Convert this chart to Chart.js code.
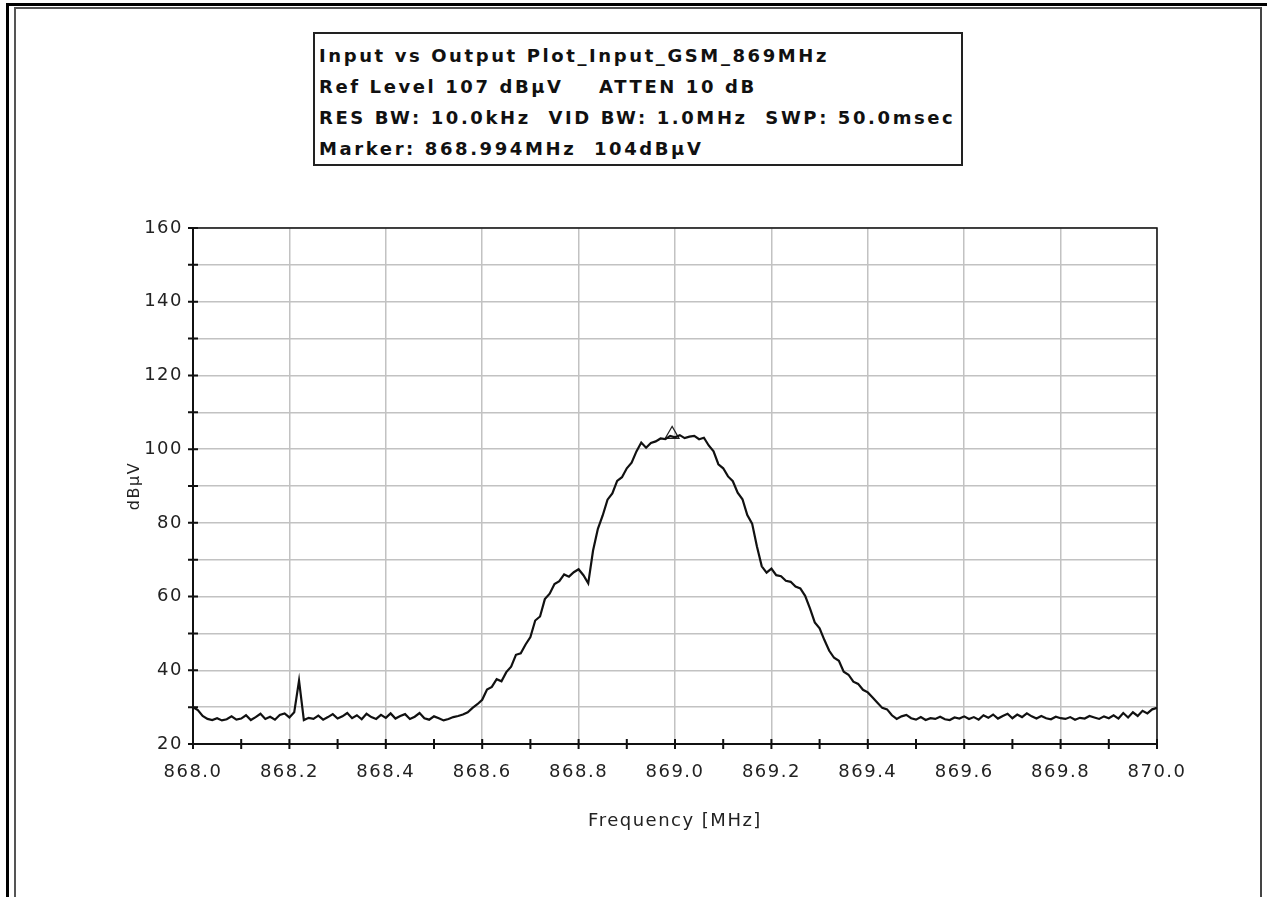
<!DOCTYPE html>
<html>
<head>
<meta charset="utf-8">
<title>Input vs Output Plot</title>
<script src="https://cdn.jsdelivr.net/npm/chart.js@4.4.1/dist/chart.umd.min.js"></script>
<style>
  html, body { margin: 0; padding: 0; background: #fff; }
  #wrap { position: relative; width: 1267px; height: 897px; overflow: hidden; }
  #outer { position: absolute; left: 6px; top: 3px; width: 1262px; height: 900px;
           border-left: 3px solid #000; border-top: 3px solid #000; }
  #inner { position: absolute; left: 14px; top: 7px; width: 1244px; height: 900px;
           border-left: 2px solid #555; border-top: 2px solid #555; border-right: 2px solid #444; }
  #info { position: absolute; left: 313px; top: 32px; width: 646px; height: 130px;
          border: 2px solid #222; background: #fff;
          font: bold 18px "DejaVu Sans", sans-serif; color: #111; }
  #info div { position: absolute; left: 4px; white-space: pre; letter-spacing: 2.6px; }
  canvas { position: absolute; left: 0; top: 0; }
</style>
</head>
<body>
<div id="wrap">
  <div id="outer"></div>
  <div id="inner"></div>
  <canvas id="plot" width="1267" height="897"></canvas>
  <div id="info">
    <div style="top:11px">Input vs Output Plot_Input_GSM_869MHz</div>
    <div style="top:42px">Ref Level 107 dBµV    ATTEN 10 dB</div>
    <div style="top:73px">RES BW: 10.0kHz  VID BW: 1.0MHz  SWP: 50.0msec</div>
    <div style="top:104px">Marker: 868.994MHz  104dBµV</div>
  </div>
</div>
<script>
// sweep settings of the analyzer trace
var sweepStart = 868.0;
var sweepStep = 0.01;

// trace level in dBuV, one value per sweep step (868.00 ... 870.00)
var level = [
    30.0, 29.2, 27.6, 26.8, 26.5, 27.0, 26.4, 26.7, 27.5, 26.6,
    26.9, 27.8, 26.5, 27.3, 28.2, 26.8, 27.4, 26.6, 27.9, 28.3,
    27.2, 28.6, 37.2, 26.5, 27.1, 26.8, 27.7, 26.6, 27.3, 28.1,
    26.9, 27.5, 28.4, 27.0, 27.8, 26.7, 28.2, 27.3, 26.8, 27.9,
    27.1, 28.3, 26.9, 27.6, 28.1, 26.8, 27.4, 28.4, 27.0, 26.6,
    27.5, 27.0, 26.4, 26.8, 27.3, 27.6, 28.0, 28.6, 29.8, 30.8,
    32.0, 34.8, 35.5, 37.6, 37.0, 39.5, 41.0, 44.2, 44.6, 47.0,
    49.0, 53.5, 54.6, 59.3, 60.8, 63.4, 64.2, 66.0, 65.4, 66.6,
    67.4, 65.8, 63.6, 72.5, 78.4, 82.0, 86.3, 88.0, 91.4, 92.4,
    94.8, 96.3, 99.4, 101.8, 100.4, 101.7, 102.1, 102.9, 102.7, 103.6,
    103.2, 103.8, 103.0, 103.4, 103.6, 102.7, 103.1, 101.0, 99.4, 95.9,
    94.8, 92.6, 91.3, 88.2, 86.4, 82.1, 79.8, 73.6, 68.2, 66.5,
    67.6, 65.8, 65.5, 64.3, 64.0, 62.7, 62.2, 60.2, 56.8, 53.0,
    51.4, 48.2, 45.3, 43.4, 42.6, 39.6, 38.8, 36.9, 36.3, 34.7,
    34.0, 32.6, 31.2, 29.8, 29.4, 27.8, 26.8, 27.5, 27.9, 27.0,
    26.6, 27.3, 26.5, 27.0, 26.8, 27.4, 26.7, 26.5, 27.2, 26.9,
    27.5, 26.8, 27.3, 26.6, 27.8, 27.1, 28.0, 26.9, 27.6, 28.2,
    27.0, 28.0, 27.3, 28.3, 27.5, 26.9, 27.6, 27.0, 26.7, 27.4,
    27.0, 26.8, 27.3, 26.6, 27.1, 26.9, 27.6, 27.2, 26.8, 27.5,
    27.0, 27.8, 26.9, 28.4, 27.2, 28.6, 27.6, 29.0, 28.3, 29.4,
    29.8
];

// marker readout
var markerFreq = [868.994];
var markerLevel = [104];

// labelled ticks
var xTickLabels = ['868.0', '868.2', '868.4', '868.6', '868.8', '869.0', '869.2', '869.4', '869.6', '869.8', '870.0'];
var yTickLabels = [20, 40, 60, 80, 100, 120, 140, 160];

var trace = level.map(function (v, i) {
    return {x: sweepStart + i * sweepStep, y: v};
});
var marker = markerFreq.map(function (f, i) {
    return {x: f, y: markerLevel[i]};
});

function isMajorX(v) {
    return xTickLabels.indexOf(v.toFixed(1)) !== -1;
}

var font = {family: 'DejaVu Sans', size: 18};

// box around the plot area plus the small cross ticks on both axes
var axisMarks = {
    id: 'axisMarks',
    beforeDraw: function (chart) {
        chart.ctx.letterSpacing = '1.5px';
    },
    afterDraw: function (chart) {
        var c = chart.ctx, a = chart.chartArea;
        var xs = chart.scales.x, ys = chart.scales.y;
        c.save();
        c.strokeStyle = '#111';
        c.lineWidth = 1.5;
        c.beginPath();
        c.moveTo(a.left, a.top);
        c.lineTo(a.right, a.top);
        c.lineTo(a.right, a.bottom);
        c.stroke();
        c.lineWidth = 2;
        c.beginPath();
        ys.ticks.forEach(function (t) {
            var py = ys.getPixelForValue(t.value);
            c.moveTo(a.left - 5, py);
            c.lineTo(a.left + 5, py);
        });
        xs.ticks.forEach(function (t) {
            var px = xs.getPixelForValue(t.value);
            c.moveTo(px, a.bottom - 5);
            c.lineTo(px, a.bottom + 5);
        });
        c.stroke();
        c.restore();
        c.letterSpacing = '0px';
    }
};

var ctx = document.getElementById('plot').getContext('2d');
var chart = new Chart(ctx, {
    type: 'line',
    data: {
        datasets: [{
            data: trace,
            borderColor: '#111',
            borderWidth: 2.2,
            pointRadius: 0,
            tension: 0
        }, {
            data: marker,
            showLine: false,
            pointStyle: 'triangle',
            pointRadius: 8,
            borderWidth: 1.2,
            borderColor: '#222',
            backgroundColor: 'rgba(0,0,0,0)'
        }]
    },
    options: {
        responsive: false,
        animation: false,
        devicePixelRatio: 1,
        layout: {padding: {top: 228, right: 110, left: 0, bottom: 61}},
        plugins: {legend: {display: false}, tooltip: {enabled: false}},
        scales: {
            x: {
                type: 'linear',
                min: 868,
                max: 870,
                afterFit: function (s) { s.height = 92; },
                ticks: {
                    stepSize: 0.1,
                    autoSkip: false,
                    maxRotation: 0,
                    padding: 18,
                    color: '#222',
                    font: font,
                    callback: function (v) { return isMajorX(v) ? v.toFixed(1) : ''; }
                },
                grid: {
                    drawTicks: false,
                    lineWidth: 1.5,
                    color: function (c) {
                        return c.tick && isMajorX(c.tick.value) ? '#c2c2c2' : 'rgba(0,0,0,0)';
                    }
                },
                border: {color: '#111', width: 2},
                title: {
                    display: true,
                    text: 'Frequency [MHz]',
                    color: '#222',
                    font: font,
                    padding: {top: 4, bottom: 4}
                }
            },
            y: {
                min: 20,
                max: 160,
                afterFit: function (s) { s.width = 193; },
                ticks: {
                    stepSize: 10,
                    padding: 10,
                    color: '#222',
                    font: font,
                    callback: function (v) { return yTickLabels.indexOf(v) !== -1 ? v : ''; }
                },
                grid: {drawTicks: false, lineWidth: 1.5, color: '#c2c2c2'},
                border: {color: '#111', width: 2},
                title: {
                    display: true,
                    text: 'dBµV',
                    color: '#222',
                    font: {family: 'DejaVu Sans', size: 16},
                    padding: {top: 125, bottom: 0}
                }
            }
        }
    },
    plugins: [axisMarks]
});
</script>
</body>
</html>
